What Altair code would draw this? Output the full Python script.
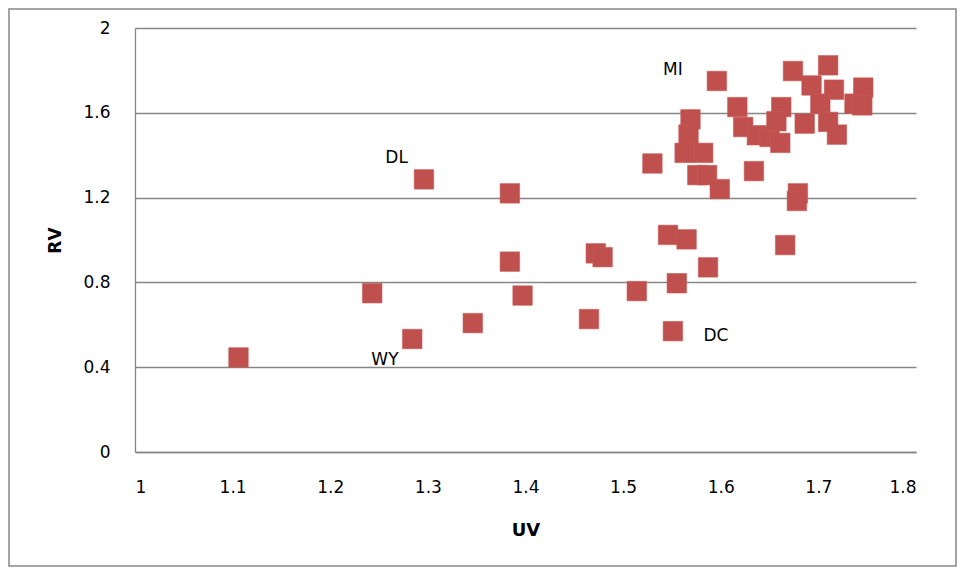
import altair as alt
import pandas as pd

# ---- data ----
uv = [1.106, 1.243, 1.284, 1.346, 1.296, 1.384, 1.384, 1.397, 1.546, 1.565,
      1.472, 1.479, 1.666, 1.587, 1.514, 1.555, 1.465, 1.551, 1.530, 1.596,
      1.569, 1.567, 1.563, 1.582, 1.576, 1.586, 1.599, 1.617, 1.623, 1.637,
      1.650, 1.662, 1.657, 1.661, 1.634, 1.679, 1.678, 1.686, 1.674, 1.693,
      1.710, 1.716, 1.702, 1.710, 1.719, 1.746, 1.737, 1.745]
rv = [0.446, 0.749, 0.533, 0.608, 1.286, 1.220, 0.898, 0.738, 1.024, 1.003,
      0.937, 0.919, 0.976, 0.871, 0.759, 0.796, 0.627, 0.570, 1.361, 1.750,
      1.569, 1.497, 1.411, 1.411, 1.306, 1.306, 1.240, 1.627, 1.533, 1.494,
      1.486, 1.627, 1.560, 1.458, 1.325, 1.220, 1.184, 1.549, 1.797, 1.729,
      1.824, 1.709, 1.643, 1.557, 1.497, 1.719, 1.643, 1.635]

label_text = ["MI", "DL", "DC", "WY"]
label_uv = [1.551, 1.268, 1.595, 1.256]
label_rv = [1.803, 1.386, 0.548, 0.435]

x_ticks = [1.0, 1.1, 1.2, 1.3, 1.4, 1.5, 1.6, 1.7, 1.8]
y_ticks = [0, 0.4, 0.8, 1.2, 1.6, 2.0]

pts = pd.DataFrame({"UV": uv, "RV": rv})
lbl = pd.DataFrame({"text": label_text, "UV": label_uv, "RV": label_rv})

W, H = 781, 424
PAD_L, PAD_T = 127, 20
CANVAS_W, CANVAS_H = 949, 559
GRAY = "#868686"
FONT = "DejaVu Sans"

xs = alt.Scale(domain=[1, 1.8], nice=False, zero=False)
ys = alt.Scale(domain=[0, 2], nice=False)

x_enc = alt.X(
    "UV:Q", scale=xs,
    axis=alt.Axis(values=x_ticks, format=".1~f", grid=False, ticks=False,
                  domainColor=GRAY, domainWidth=1.3, labelPadding=27,
                  labelFontSize=17, labelFont=FONT, labelColor="#000000",
                  title="UV", titleFont=FONT, titleFontSize=18,
                  titleFontWeight="bold", titleColor="#000000",
                  titleBaseline="middle", titleY=78),
)
y_enc = alt.Y(
    "RV:Q", scale=ys,
    axis=alt.Axis(values=y_ticks, format=".1~f", grid=True, gridColor=GRAY,
                  gridWidth=1.3, ticks=False, domainColor=GRAY, domainWidth=1.3,
                  labelPadding=25, labelFontSize=17, labelFont=FONT,
                  labelColor="#000000",
                  title="RV", titleFont=FONT, titleFontSize=17,
                  titleFontWeight="bold", titleColor="#000000",
                  titleBaseline="middle", titleX=-80),
)

points = alt.Chart(pts).mark_point(
    shape="square", filled=True, size=380, color="#C0504D", opacity=1,
    stroke="#C65A57", strokeWidth=0.6
).encode(x=x_enc, y=y_enc)

labels = alt.Chart(lbl).mark_text(
    font=FONT, fontSize=17, color="#000000", align="center", baseline="middle"
).encode(x=alt.X("UV:Q", scale=xs), y=alt.Y("RV:Q", scale=ys), text="text:N")

border = alt.Chart(pd.DataFrame({"b": [0]})).mark_rect(
    fill="transparent", stroke=GRAY, strokeWidth=1.5
).encode(
    x=alt.value(-PAD_L + 1), x2=alt.value(CANVAS_W - PAD_L - 1),
    y=alt.value(-PAD_T + 1), y2=alt.value(CANVAS_H - PAD_T - 1),
)

chart = alt.layer(border, points, labels).properties(
    width=W, height=H,
    autosize=alt.AutoSizeParams(type="none"),
    padding={"left": PAD_L, "top": PAD_T,
             "right": CANVAS_W - PAD_L - W, "bottom": CANVAS_H - PAD_T - H},
    background="white",
).configure_view(stroke=None)

chart.save("out.html", embed_options={"renderer": "svg", "actions": False})
